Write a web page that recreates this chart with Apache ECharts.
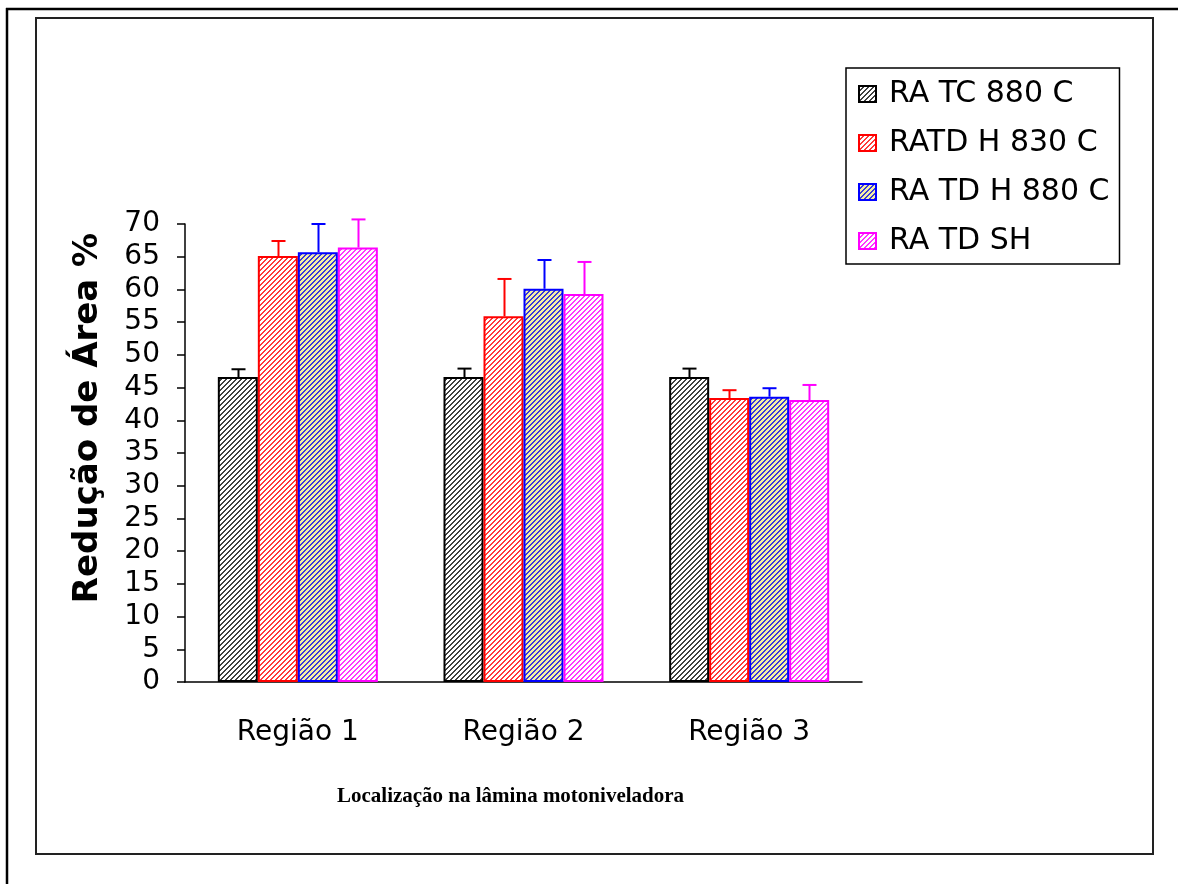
<!DOCTYPE html>
<html>
<head>
<meta charset="utf-8">
<title>Redução de Área</title>
<script src="https://cdn.jsdelivr.net/npm/echarts@6/dist/echarts.min.js"></script>
<style>html,body{margin:0;padding:0;background:#fff}</style>
</head>
<body>
<div id="main" style="width:1178px;height:884px;"></div>
<script type="text/javascript">
// dados
var categorias = ['Região 1', 'Região 2', 'Região 3'];
var nomes = ['RA TC 880 C', 'RATD H 830 C', 'RA TD H 880 C', 'RA TD SH'];
var ra_tc_880 = [46.6, 46.6, 46.6];
var ratd_h_830 = [65.1, 55.9, 43.4];
var ra_td_h_880 = [65.7, 60.1, 43.6];
var ra_td_sh = [66.4, 59.3, 43.1];
var err_tc_880 = [1.2, 1.3, 1.3];
var err_h_830 = [2.3, 5.7, 1.2];
var err_h_880 = [4.3, 4.4, 1.3];
var err_sh = [4.3, 4.9, 2.3];
var y_min = 0, y_max = 70, y_passo = 5;

var valores = [ra_tc_880, ratd_h_830, ra_td_h_880, ra_td_sh];
var erros = [err_tc_880, err_h_830, err_h_880, err_sh];
var coresLinha = ['#000000', '#ff0000', '#0000ff', '#ff00ff'];
var coresRisco = ['#404040', '#ff3a3a', '#3a3ad8', '#ff3aff'];
var coresFundo = ['#ffffff', '#ffffff', '#f3eea6', '#ffffff'];
var barW = 40;

// hachura diagonal "/"
function hachura(cor, fundo) {
    var n = 5;
    var c = document.createElement('canvas');
    c.width = n; c.height = n;
    var ctx = c.getContext('2d');
    ctx.fillStyle = fundo; ctx.fillRect(0, 0, n, n);
    ctx.fillStyle = cor;
    for (var i = 0; i < n; i++) {
        ctx.fillRect(i, n - 1 - i, 1, 1);
        ctx.fillRect(i, (n - i) % n, 1, 1);
    }
    return { image: c, repeat: 'repeat' };
}

var series = nomes.map(function (n, s) {
    return {
        name: n,
        type: 'bar',
        barWidth: barW,
        barGap: '0%',
        data: valores[s],
        itemStyle: { color: hachura(coresRisco[s], coresFundo[s]), borderColor: coresLinha[s], borderWidth: 2 }
    };
});

var erroDados = [];
valores.forEach(function (vals, s) {
    vals.forEach(function (v, c) { erroDados.push([c, s, v, erros[s][c]]); });
});
series.push({
    type: 'custom',
    name: 'erro',
    data: erroDados,
    encode: { x: 0, y: 2 },
    clip: false,
    z: 10,
    renderItem: function (params, api) {
        var c = api.value(0), s = api.value(1), v = api.value(2), e = api.value(3);
        var p0 = api.coord([c, v]);
        var p1 = api.coord([c, v + e]);
        var x = Math.round(p0[0] + (s - 1.5) * barW) + 0.5;
        var cor = coresLinha[s];
        return {
            type: 'group',
            children: [
                { type: 'line', shape: { x1: x, y1: p0[1], x2: x, y2: p1[1] }, style: { stroke: cor, lineWidth: 2 } },
                { type: 'line', shape: { x1: x - 7, y1: p1[1], x2: x + 7, y2: p1[1] }, style: { stroke: cor, lineWidth: 2 } }
            ]
        };
    }
});

var myChart = echarts.init(document.getElementById('main'));
myChart.setOption({
    animation: false,
    backgroundColor: '#ffffff',
    grid: { left: 185, right: 316, top: 224, bottom: 202, containLabel: false, outerBoundsMode: 'none' },
    legend: {
        data: nomes,
        orient: 'vertical',
        icon: 'rect',
        left: 846,
        top: 68,
        padding: [11, 10, 8, 12],
        itemGap: 19,
        itemWidth: 17,
        itemHeight: 16,
        borderColor: '#000',
        borderWidth: 1.5,
        textStyle: { fontFamily: 'DejaVu Sans', fontSize: 30, color: '#000', lineHeight: 30, padding: [0, 0, 0, 8] }
    },
    xAxis: {
        type: 'category',
        data: categorias,
        name: 'Localização na lâmina motoniveladora',
        nameLocation: 'middle',
        nameGap: 104,
        nameTextStyle: { fontFamily: 'Liberation Serif', fontWeight: 'bold', fontSize: 21, color: '#000', padding: [0, 26, 0, 0] },
        axisLine: { lineStyle: { color: '#000', width: 1.5 } },
        axisTick: { length: 9, lineStyle: { color: '#000', width: 1.5 } },
        axisLabel: { fontFamily: 'DejaVu Sans', fontSize: 28, color: '#000', margin: 37 }
    },
    yAxis: {
        type: 'value',
        min: y_min,
        max: y_max,
        interval: y_passo,
        name: 'Redução de Área %',
        nameLocation: 'middle',
        nameGap: 80,
        nameTextStyle: { fontFamily: 'DejaVu Sans', fontWeight: 'bold', fontSize: 34, color: '#000', padding: [0, 0, 0, 70] },
        axisLine: { show: true, lineStyle: { color: '#000', width: 1.5 } },
        axisTick: { show: true, length: 8, lineStyle: { color: '#000', width: 1.5 } },
        splitLine: { show: false },
        axisLabel: { fontFamily: 'DejaVu Sans', fontSize: 28, color: '#000', margin: 25 }
    },
    graphic: [
        { type: 'line', shape: { x1: 6, y1: 9, x2: 1178, y2: 9 }, style: { stroke: '#000', lineWidth: 2.5 } },
        { type: 'line', shape: { x1: 7, y1: 8, x2: 7, y2: 884 }, style: { stroke: '#000', lineWidth: 2.5 } },
        { type: 'rect', shape: { x: 36, y: 18, width: 1117, height: 836 }, style: { fill: 'none', stroke: '#222', lineWidth: 2 } }
    ],
    series: series
});
</script>
</body>
</html>
